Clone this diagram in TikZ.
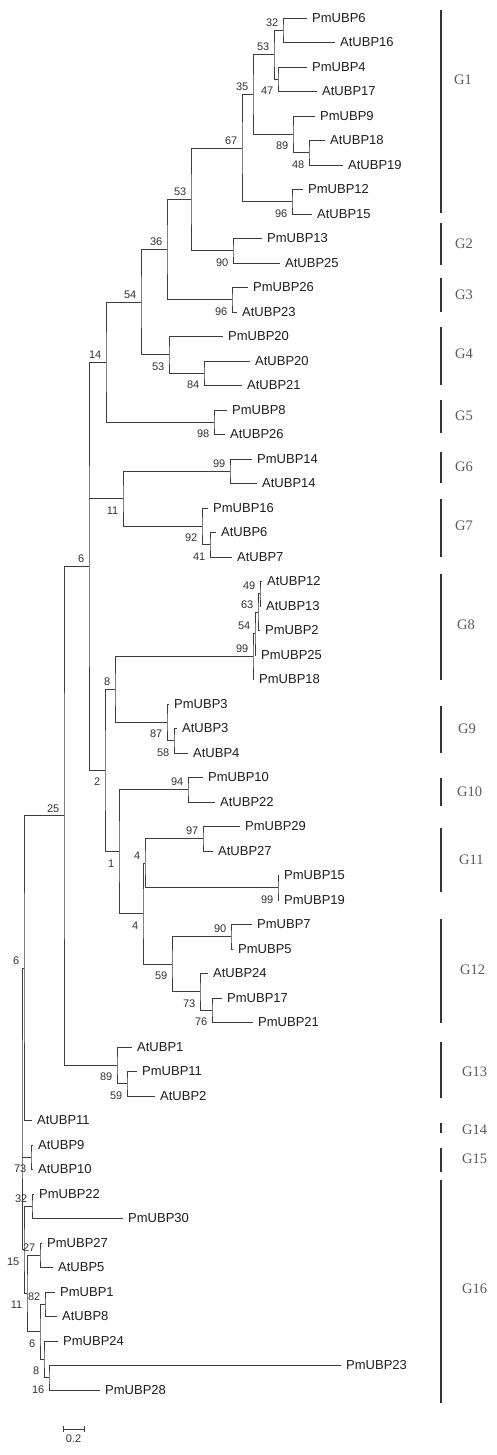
\documentclass[tikz,border=0pt]{standalone}
\usepackage{fontspec}
\usetikzlibrary{calc}
\newfontfamily\arialf{Liberation Sans}
\newfontfamily\timesf{Liberation Serif}
\definecolor{linec}{HTML}{3C3C3C}
\definecolor{textc}{HTML}{1E1E1E}
\definecolor{bsc}{HTML}{333333}
\definecolor{gc}{HTML}{5A5A5A}
\definecolor{barc}{HTML}{333333}
\tikzset{
  br/.style={draw=linec, line width=0.9pt},
  leaftext/.style={anchor=west, inner sep=0pt, text=textc, font=\arialf\fontsize{13}{13}\selectfont},
  bs/.style={inner sep=0pt, text=bsc, font=\arialf\fontsize{11}{11}\selectfont},
  gbar/.style={draw=barc, line width=2pt},
  glab/.style={anchor=west, inner sep=0pt, text=gc, font=\timesf\fontsize{14.5}{14.5}\selectfont},
}
\newcommand\leaf[3]{\coordinate (L#1) at (#2,{18+24.5*#1}); \node[leaftext] (T#1) at ([xshift=5pt]L#1) {#3};}
\newcommand\inode[4]{\path let \p1=(#3), \p2=(#4) in coordinate (#1) at ({#2pt},{(\y1+\y2)/2}); \draw[br] (#3) -| (#1) |- (#4);}
\newcommand\inodeiii[5]{\path let \p1=(#3), \p2=(#5) in coordinate (#1) at ({#2pt},{(\y1+\y2)/2}); \draw[br] (#3) -| (#1) |- (#5); \draw[br] (#1 |- #4) -- (#4);}
\newcommand\bsa[2]{\node[bs,anchor=south east] (bs#1) at ([xshift=-4.5pt,yshift=3.5pt]#1) {#2};}
\newcommand\bsb[2]{\node[bs,anchor=north east] (bs#1) at ([xshift=-4.5pt,yshift=-7.5pt]#1) {#2};}
\newcommand\grp[6]{\coordinate (#1t) at (441,#2); \coordinate (#1b) at (441,#3); \draw[gbar] (#1t) -- (#1b); \node[glab] (#1) at (#5,#4) {#6};}
\begin{document}
\begin{tikzpicture}[x=1pt,y=-1pt]
\fill[white] (0,0) rectangle (497,1455);
\useasboundingbox (0,0) rectangle (497,1455);
% leaves
\leaf{0}{307}{PmUBP6}
\leaf{1}{335}{AtUBP16}
\leaf{2}{307}{PmUBP4}
\leaf{3}{317}{AtUBP17}
\leaf{4}{315}{PmUBP9}
\leaf{5}{325}{AtUBP18}
\leaf{6}{343}{AtUBP19}
\leaf{7}{303}{PmUBP12}
\leaf{8}{312}{AtUBP15}
\leaf{9}{262}{PmUBP13}
\leaf{10}{280}{AtUBP25}
\leaf{11}{248}{PmUBP26}
\leaf{12}{237}{AtUBP23}
\leaf{13}{223}{PmUBP20}
\leaf{14}{250}{AtUBP20}
\leaf{15}{242}{AtUBP21}
\leaf{16}{227}{PmUBP8}
\leaf{17}{225}{AtUBP26}
\leaf{18}{252}{PmUBP14}
\leaf{19}{257}{AtUBP14}
\leaf{20}{208}{PmUBP16}
\leaf{21}{216}{AtUBP6}
\leaf{22}{232}{AtUBP7}
\leaf{23}{262}{AtUBP12}
\leaf{24}{261}{AtUBP13}
\leaf{25}{260}{PmUBP2}
\leaf{26}{256}{PmUBP25}
\leaf{27}{254}{PmUBP18}
\leaf{28}{169}{PmUBP3}
\leaf{29}{177}{AtUBP3}
\leaf{30}{188}{AtUBP4}
\leaf{31}{203}{PmUBP10}
\leaf{32}{215}{AtUBP22}
\leaf{33}{240}{PmUBP29}
\leaf{34}{213}{AtUBP27}
\leaf{35}{279}{PmUBP15}
\leaf{36}{279}{PmUBP19}
\leaf{37}{252}{PmUBP7}
\leaf{38}{233}{PmUBP5}
\leaf{39}{208}{AtUBP24}
\leaf{40}{222}{PmUBP17}
\leaf{41}{253}{PmUBP21}
\leaf{42}{132}{AtUBP1}
\leaf{43}{137}{PmUBP11}
\leaf{44}{155}{AtUBP2}
\leaf{45}{32}{AtUBP11}
\leaf{46}{33}{AtUBP9}
\leaf{47}{33}{AtUBP10}
\leaf{48}{34}{PmUBP22}
\leaf{49}{123}{PmUBP30}
\leaf{50}{42}{PmUBP27}
\leaf{51}{53}{AtUBP5}
\leaf{52}{55}{PmUBP1}
\leaf{53}{57}{AtUBP8}
\leaf{54}{58}{PmUBP24}
\leaf{55}{341}{PmUBP23}
\leaf{56}{100}{PmUBP28}
% internal nodes
\inode{a32}{283}{L0}{L1}
\inode{a47}{278}{L2}{L3}
\inode{a53}{274}{a32}{a47}
\inode{a48}{309}{L5}{L6}
\inode{a89}{293}{L4}{a48}
\inode{a35}{253}{a53}{a89}
\inode{a96}{292}{L7}{L8}
\inode{a67}{242}{a35}{a96}
\inode{b90}{233}{L9}{L10}
\inode{b53}{191}{a67}{b90}
\inode{c96}{232}{L11}{L12}
\inode{c36}{167}{b53}{c96}
\inode{d84}{204}{L14}{L15}
\inode{d53}{169}{L13}{d84}
\inode{d54}{141}{c36}{d53}
\inode{e98}{214}{L16}{L17}
\inode{e14}{106}{d54}{e98}
\inode{f99}{230}{L18}{L19}
\inode{g41}{210}{L21}{L22}
\inode{g92}{202}{L20}{g41}
\inode{f11}{123}{f99}{g92}
\inode{h49}{260}{L23}{L24}
\inode{h63}{258}{h49}{L25}
\inode{h54}{255}{h63}{L26}
\inode{h99}{253}{h54}{L27}
\inode{i58}{174}{L29}{L30}
\inode{i87}{167}{L28}{i58}
\inode{i8}{115}{h99}{i87}
\inode{j94}{188}{L31}{L32}
\inode{k97}{203}{L33}{L34}
\inode{k99}{278}{L35}{L36}
\inode{k4a}{145}{k97}{k99}
\inode{m90}{231}{L37}{L38}
\inode{m76}{212}{L40}{L41}
\inode{m73}{200}{L39}{m76}
\inode{m59}{172}{m90}{m73}
\inode{k4b}{143}{k4a}{m59}
\inode{j1}{119}{j94}{k4b}
\inode{i2}{105}{i8}{j1}
\inodeiii{n6}{89}{e14}{f11}{i2}
\inode{o59}{127}{L43}{L44}
\inode{o89}{117}{L42}{o59}
\inode{n25}{64}{n6}{o89}
\inode{r6}{24}{n25}{L45}
\inode{p73}{31}{L46}{L47}
\inode{q32}{32}{L48}{L49}
\inode{q27}{40}{L50}{L51}
\inode{q82}{45}{L52}{L53}
\inode{q16}{49}{L55}{L56}
\inode{q8}{44}{L54}{q16}
\inode{q6}{40}{q82}{q8}
\inode{q11}{27}{q27}{q6}
\inode{q15}{24}{q32}{q11}
\inodeiii{root}{22}{r6}{p73}{q15}
% bootstrap values
\bsa{a32}{32} \bsb{a47}{47} \bsa{a53}{53} \bsb{a48}{48} \bsb{a89}{89}
\bsa{a35}{35} \bsb{a96}{96} \bsa{a67}{67} \bsb{b90}{90} \bsa{b53}{53}
\bsb{c96}{96} \bsa{c36}{36} \bsb{d84}{84} \bsb{d53}{53} \bsa{d54}{54}
\bsb{e98}{98} \bsa{e14}{14} \bsa{f99}{99} \bsb{g41}{41} \bsb{g92}{92}
\bsb{f11}{11} \bsa{h49}{49} \bsa{h63}{63} \bsa{h54}{54} \bsa{h99}{99}
\bsb{i58}{58} \bsb{i87}{87} \bsa{i8}{8} \bsa{j94}{94} \bsa{k97}{97}
\bsb{k99}{99} \bsa{k4a}{4} \bsa{m90}{90} \bsb{m76}{76} \bsb{m73}{73}
\bsb{m59}{59} \bsb{k4b}{4} \bsb{j1}{1} \bsb{i2}{2} \bsa{n6}{6}
\bsb{o59}{59} \bsb{o89}{89} \bsa{n25}{25} \bsa{r6}{6} \bsb{p73}{73}
\bsa{q32}{32} \bsa{q27}{27} \bsa{q82}{82} \bsb{q16}{16} \bsb{q8}{8}
\bsb{q6}{6} \bsb{q11}{11} \bsb{q15}{15}
% groups
\grp{G1}{10}{213}{80}{454}{G1}
\grp{G2}{223}{265}{244}{455}{G2}
\grp{G3}{278}{312}{295}{455}{G3}
\grp{G4}{327}{385}{354}{455}{G4}
\grp{G5}{400}{433}{416}{455}{G5}
\grp{G6}{452}{483}{467}{455}{G6}
\grp{G7}{499}{557}{526}{455}{G7}
\grp{G8}{574}{680}{625}{457}{G8}
\grp{G9}{706}{753}{729}{458}{G9}
\grp{G10}{778}{806}{792}{457}{G10}
\grp{G11}{828}{892}{860}{459}{G11}
\grp{G12}{919}{1023}{970}{460}{G12}
\grp{G13}{1042}{1098}{1072}{462}{G13}
\grp{G14}{1123}{1133}{1130}{462}{G14}
\grp{G15}{1148}{1172}{1159}{462}{G15}
\grp{G16}{1180}{1403}{1289}{462}{G16}
% scale bar
\coordinate (sb1) at (63,1429);
\coordinate (sb2) at (84,1429);
\draw[br] (sb1) -- (sb2);
\draw[br] ([yshift=3pt]sb1) -- ([yshift=-3pt]sb1);
\draw[br] ([yshift=3pt]sb2) -- ([yshift=-3pt]sb2);
\node[bs,anchor=north] (sbl) at ($(sb1)!0.5!(sb2)+(0,6)$) {0.2};
\end{tikzpicture}
\end{document}
